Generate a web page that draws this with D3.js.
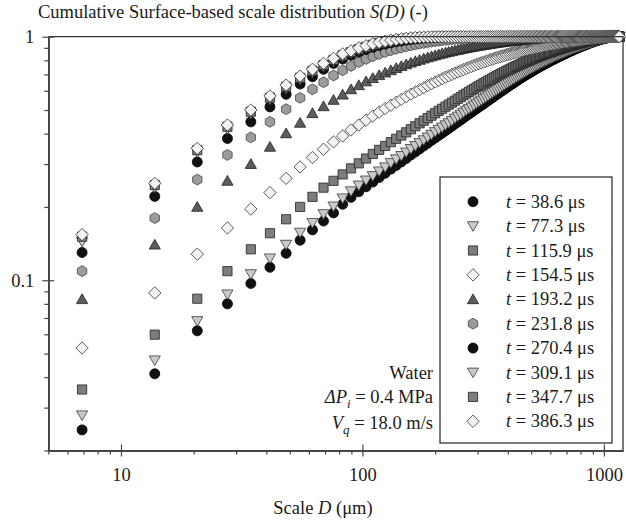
<!DOCTYPE html>
<html>
<head>
<meta charset="utf-8">
<script src="https://cdn.jsdelivr.net/npm/d3@7"></script>
<style>
body { margin: 0; background: #fff; }
text { font-family: "Liberation Serif", "Times New Roman", serif; fill: #1a1a1a; }
</style>
</head>
<body>
<div id="chartArea"></div>
<script>
const w = 626;
const h = 524;
const fs = 18.5;

// scale D (µm), one point per 6.9 µm pixel step
const scaleD = [
6.9,13.8,20.7,27.6,34.5,41.4,48.3,55.2,62.1,69,
75.9,82.8,89.7,96.6,103.5,110.4,117.3,124.2,131.1,138,
144.9,151.8,158.7,165.6,172.5,179.4,186.3,193.2,200.1,207,
213.9,220.8,227.7,234.6,241.5,248.4,255.3,262.2,269.1,276,
282.9,289.8,296.7,303.6,310.5,317.4,324.3,331.2,338.1,345,
351.9,358.8,365.7,372.6,379.5,386.4,393.3,400.2,407.1,414,
420.9,427.8,434.7,441.6,448.5,455.4,462.3,469.2,476.1,483,
489.9,496.8,503.7,510.6,517.5,524.4,531.3,538.2,545.1,552,
558.9,565.8,572.7,579.6,586.5,593.4,600.3,607.2,614.1,621,
627.9,634.8,641.7,648.6,655.5,662.4,669.3,676.2,683.1,690,
696.9,703.8,710.7,717.6,724.5,731.4,738.3,745.2,752.1,759,
765.9,772.8,779.7,786.6,793.5,800.4,807.3,814.2,821.1,828,
834.9,841.8,848.7,855.6,862.5,869.4,876.3,883.2,890.1,897,
903.9,910.8,917.7,924.6,931.5,938.4,945.3,952.2,959.1,966,
972.9,979.8,986.7,993.6,1000.5,1007.4,1014.3,1021.2,1028.1,1035,
1041.9,1048.8,1055.7,1062.6,1069.5,1076.4,1083.3,1090.2,1097.1,1104,
1110.9,1117.8,1124.7,1131.6,1138.5,1145.4,1152.3,1159.2];

const times = [38.6, 77.3, 115.9, 154.5, 193.2, 231.8, 270.4, 309.1, 347.7, 386.3];

const s1 = [
.0243,.0413,.062,.080,.097,.113,.129,.146,.161,.175,
.189,.205,.219,.231,.242,.253,.264,.275,.286,.296,
.306,.316,.327,.336,.346,.356,.365,.375,.384,.393,
.402,.411,.420,.429,.438,.447,.455,.464,.473,.481,
.489,.498,.506,.514,.522,.530,.538,.546,.554,.562,
.570,.578,.585,.593,.600,.608,.615,.623,.630,.637,
.644,.651,.658,.665,.672,.678,.685,.691,.697,.703,
.709,.715,.721,.727,.733,.738,.744,.749,.755,.760,
.765,.770,.775,.780,.785,.790,.795,.800,.804,.809,
.813,.818,.822,.826,.831,.835,.839,.843,.847,.851,
.855,.859,.863,.867,.871,.875,.878,.882,.886,.889,
.893,.896,.900,.903,.906,.910,.913,.916,.919,.922,
.925,.928,.931,.934,.937,.940,.943,.945,.948,.951,
.953,.956,.958,.961,.963,.965,.968,.970,.972,.974,
.976,.978,.980,.982,.984,.985,.987,.988,.990,.991,
.992,.993,.994,.995,.996,.997,.997,.998,.998,.999,
.999,1,1,1,1,1,1,1];

const s2 = [
.0279,.0469,.068,.0875,.106,.123,.140,.157,.172,.187,
.201,.217,.232,.245,.257,.268,.280,.291,.303,.314,
.324,.335,.346,.356,.366,.376,.386,.396,.406,.415,
.424,.433,.442,.451,.461,.470,.479,.488,.497,.505,
.513,.522,.531,.539,.547,.555,.563,.571,.579,.587,
.595,.603,.610,.618,.625,.633,.640,.647,.654,.661,
.668,.675,.682,.689,.695,.701,.708,.714,.720,.726,
.732,.738,.743,.749,.755,.760,.765,.770,.776,.781,
.785,.790,.795,.800,.804,.809,.813,.818,.822,.826,
.830,.834,.838,.842,.846,.850,.854,.857,.861,.865,
.868,.872,.875,.879,.882,.885,.889,.892,.895,.898,
.901,.904,.907,.910,.913,.916,.919,.922,.924,.927,
.930,.932,.935,.937,.940,.942,.945,.947,.950,.952,
.954,.957,.959,.961,.963,.966,.968,.970,.972,.974,
.976,.978,.980,.982,.983,.985,.986,.988,.989,.990,
.991,.992,.993,.994,.995,.996,.997,.997,.998,.998,
.999,.999,1,1,1,1,1,1];

const s3 = [
.0356,.0598,.084,.109,.134,.156,.178,.200,.220,.240,
.256,.272,.288,.302,.316,.330,.343,.356,.369,.381,
.393,.405,.417,.429,.441,.452,.463,.474,.485,.496,
.506,.516,.526,.536,.546,.556,.565,.575,.584,.593,
.602,.610,.619,.627,.635,.643,.651,.659,.666,.674,
.681,.688,.695,.702,.709,.715,.722,.728,.734,.740,
.746,.752,.758,.763,.769,.774,.779,.784,.789,.794,
.799,.804,.808,.813,.817,.822,.826,.830,.834,.838,
.842,.846,.850,.853,.857,.861,.864,.868,.871,.874,
.878,.881,.884,.887,.890,.893,.896,.899,.902,.905,
.907,.910,.913,.915,.918,.920,.923,.925,.928,.930,
.932,.935,.937,.939,.941,.943,.945,.947,.949,.951,
.953,.955,.957,.959,.961,.963,.964,.966,.968,.969,
.971,.972,.974,.975,.977,.978,.979,.981,.982,.983,
.984,.985,.986,.987,.988,.989,.990,.991,.992,.993,
.994,.995,.995,.996,.997,.997,.998,.998,.999,.999,
1,1,1,1,1,1,1,1];

const s4 = [
.0527,.0887,.128,.164,.196,.229,.262,.292,.319,.345,
.370,.391,.414,.434,.454,.472,.490,.507,.523,.538,
.553,.567,.581,.594,.606,.618,.630,.641,.652,.662,
.672,.682,.691,.700,.709,.717,.725,.733,.741,.748,
.755,.762,.769,.775,.781,.787,.793,.798,.804,.809,
.814,.819,.824,.829,.833,.837,.842,.846,.850,.854,
.858,.862,.865,.869,.872,.875,.879,.882,.885,.888,
.891,.894,.897,.899,.902,.905,.907,.910,.912,.915,
.917,.919,.922,.924,.926,.928,.930,.932,.934,.936,
.938,.940,.941,.943,.945,.947,.948,.950,.951,.953,
.954,.956,.957,.959,.960,.961,.963,.964,.965,.966,
.968,.969,.970,.971,.972,.973,.974,.975,.976,.977,
.978,.979,.980,.981,.982,.983,.984,.984,.985,.986,
.987,.988,.988,.989,.990,.990,.991,.992,.992,.993,
.994,.994,.995,.995,.996,.996,.997,.997,.998,.998,
.998,.999,.999,.999,1,1,1,1,1,1,
1,1,1,1,1,1,1,1];

const s5 = [
.0836,.140,.200,.256,.300,.353,.401,.443,.485,.518,
.550,.578,.608,.632,.655,.676,.695,.712,.728,.743,
.757,.770,.782,.793,.803,.813,.822,.830,.838,.846,
.853,.860,.866,.872,.878,.883,.888,.893,.898,.902,
.906,.910,.914,.918,.921,.925,.928,.931,.934,.937,
.940,.942,.945,.947,.950,.952,.954,.956,.958,.960,
.962,.964,.966,.967,.969,.970,.972,.973,.975,.976,
.977,.978,.980,.981,.982,.983,.984,.985,.986,.987,
.988,.988,.989,.990,.991,.991,.992,.993,.993,.994,
.994,.995,.995,.996,.996,.997,.997,.997,.998,.998,
.998,.999,.999,.999,1,1,1,1,1,1,
1,1,1,1,1,1,1,1,1,1,
1,1,1,1,1,1,1,1,1,1,
1,1,1,1,1,1,1,1,1,1,
1,1,1,1,1,1,1,1,1,1,
1,1,1,1,1,1,1,1,1,1,
1,1,1,1,1,1,1,1];

const s6 = [
.109,.180,.259,.327,.386,.447,.504,.561,.608,.650,
.693,.728,.758,.786,.810,.831,.849,.865,.879,.891,
.902,.912,.921,.929,.936,.942,.948,.953,.958,.962,
.966,.970,.973,.976,.979,.981,.983,.985,.987,.989,
.990,.991,.992,.993,.994,.995,.996,.997,.998,.998,
.999,.999,1,1,1,1,1,1,1,1,
1,1,1,1,1,1,1,1,1,1,
1,1,1,1,1,1,1,1,1,1,
1,1,1,1,1,1,1,1,1,1,
1,1,1,1,1,1,1,1,1,1,
1,1,1,1,1,1,1,1,1,1,
1,1,1,1,1,1,1,1,1,1,
1,1,1,1,1,1,1,1,1,1,
1,1,1,1,1,1,1,1,1,1,
1,1,1,1,1,1,1,1,1,1,
1,1,1,1,1,1,1,1,1,1,
1,1,1,1,1,1,1,1];

const s7 = [
.130,.221,.306,.382,.447,.515,.580,.639,.685,.735,
.777,.810,.840,.865,.887,.905,.920,.933,.944,.953,
.961,.968,.974,.979,.983,.987,.990,.992,.994,.996,
.997,.998,.999,1,1,1,1,1,1,1,
1,1,1,1,1,1,1,1,1,1,
1,1,1,1,1,1,1,1,1,1,
1,1,1,1,1,1,1,1,1,1,
1,1,1,1,1,1,1,1,1,1,
1,1,1,1,1,1,1,1,1,1,
1,1,1,1,1,1,1,1,1,1,
1,1,1,1,1,1,1,1,1,1,
1,1,1,1,1,1,1,1,1,1,
1,1,1,1,1,1,1,1,1,1,
1,1,1,1,1,1,1,1,1,1,
1,1,1,1,1,1,1,1,1,1,
1,1,1,1,1,1,1,1,1,1,
1,1,1,1,1,1,1,1];

const s8 = [
.144,.240,.335,.418,.483,.552,.612,.667,.713,.755,
.792,.827,.855,.880,.900,.918,.933,.945,.955,.964,
.971,.977,.982,.986,.989,.992,.994,.996,.997,.998,
.999,1,1,1,1,1,1,1,1,1,
1,1,1,1,1,1,1,1,1,1,
1,1,1,1,1,1,1,1,1,1,
1,1,1,1,1,1,1,1,1,1,
1,1,1,1,1,1,1,1,1,1,
1,1,1,1,1,1,1,1,1,1,
1,1,1,1,1,1,1,1,1,1,
1,1,1,1,1,1,1,1,1,1,
1,1,1,1,1,1,1,1,1,1,
1,1,1,1,1,1,1,1,1,1,
1,1,1,1,1,1,1,1,1,1,
1,1,1,1,1,1,1,1,1,1,
1,1,1,1,1,1,1,1,1,1,
1,1,1,1,1,1,1,1];

const s9 = [
.151,.246,.342,.427,.492,.562,.623,.678,.724,.765,
.803,.838,.864,.889,.908,.926,.940,.951,.961,.969,
.976,.982,.986,.990,.993,.995,.997,.998,.999,1,
1,1,1,1,1,1,1,1,1,1,
1,1,1,1,1,1,1,1,1,1,
1,1,1,1,1,1,1,1,1,1,
1,1,1,1,1,1,1,1,1,1,
1,1,1,1,1,1,1,1,1,1,
1,1,1,1,1,1,1,1,1,1,
1,1,1,1,1,1,1,1,1,1,
1,1,1,1,1,1,1,1,1,1,
1,1,1,1,1,1,1,1,1,1,
1,1,1,1,1,1,1,1,1,1,
1,1,1,1,1,1,1,1,1,1,
1,1,1,1,1,1,1,1,1,1,
1,1,1,1,1,1,1,1,1,1,
1,1,1,1,1,1,1,1];

const s10 = [
.154,.250,.348,.434,.500,.571,.633,.689,.735,.777,
.815,.850,.875,.900,.918,.935,.948,.958,.967,.974,
.980,.985,.989,.992,.994,.996,.997,.998,.999,1,
1,1,1,1,1,1,1,1,1,1,
1,1,1,1,1,1,1,1,1,1,
1,1,1,1,1,1,1,1,1,1,
1,1,1,1,1,1,1,1,1,1,
1,1,1,1,1,1,1,1,1,1,
1,1,1,1,1,1,1,1,1,1,
1,1,1,1,1,1,1,1,1,1,
1,1,1,1,1,1,1,1,1,1,
1,1,1,1,1,1,1,1,1,1,
1,1,1,1,1,1,1,1,1,1,
1,1,1,1,1,1,1,1,1,1,
1,1,1,1,1,1,1,1,1,1,
1,1,1,1,1,1,1,1,1,1,
1,1,1,1,1,1,1,1];

const allSeries = [s1, s2, s3, s4, s5, s6, s7, s8, s9, s10];

const yMajor = [0.1, 1];
const yMinor = [0.02,0.03,0.04,0.05,0.06,0.07,0.08,0.09,0.2,0.3,0.4,0.5,0.6,0.7,0.8,0.9];
const xMajor = [10, 100, 1000];
const xMinor = [5,6,7,8,9,20,30,40,50,60,70,80,90,200,300,400,500,600,700,800,900];

// marker looks, repeating after six
const markers = [
    {shape: "circle",  fill: "#111",    stroke: "#000"},
    {shape: "triDown", fill: "#c9c9c9", stroke: "#3a3a3a"},
    {shape: "square",  fill: "#7d7d7d", stroke: "#222"},
    {shape: "diamond", fill: "#f2f2f2", stroke: "#333"},
    {shape: "triUp",   fill: "#5c5c5c", stroke: "#222"},
    {shape: "hexagon", fill: "#9c9c9c", stroke: "#444"}
];
const seriesMarker = [0, 1, 2, 3, 4, 5, 0, 1, 2, 3];

function shapePath(shape) {
    switch (shape) {
        case "circle": return "M5,0A5,5 0 1,1 -5,0A5,5 0 1,1 5,0Z";
        case "triDown": return "M-5.6,-4.4L5.6,-4.4L0,5.2Z";
        case "triUp": return "M0,-5.4L5.6,4.4L-5.6,4.4Z";
        case "square": return "M-4.6,-4.6L4.6,-4.6L4.6,4.6L-4.6,4.6Z";
        case "diamond": return "M0,-6.2L6.2,0L0,6.2L-6.2,0Z";
        case "hexagon":
            return d3.range(6).map(i => {
                let a = Math.PI / 3 * i - Math.PI / 2;
                return (i ? "L" : "M") + (5.4 * Math.cos(a)).toFixed(2) + "," + (5.4 * Math.sin(a)).toFixed(2);
            }).join("") + "Z";
    }
}

const svg = d3.select("#chartArea")
    .append("svg")
    .attr("width", w)
    .attr("height", h);

const x = d3.scaleLog().domain([5, 1200]).range([48.3, 623]);
const y = d3.scaleLog().domain([0.02, 1]).range([450.5, 36.7]);

// points
allSeries.forEach((vals, si) => {
    let m = markers[seriesMarker[si]];
    svg.append("g")
        .selectAll("path")
        .data(vals.map((v, i) => ({d: scaleD[i], v: v})).filter(p => p.d !== undefined))
        .enter()
        .append("path")
        .attr("d", shapePath(m.shape))
        .attr("transform", p => `translate(${x(p.d)},${y(p.v)})`)
        .attr("fill", m.fill)
        .attr("stroke", m.stroke)
        .attr("stroke-width", 0.8);
});

// frame top and right
svg.append("path")
    .attr("d", `M${x.range()[0]},${y(1)}H${x.range()[1]}V${y.range()[0]}`)
    .attr("fill", "none")
    .attr("stroke", "#333")
    .attr("stroke-width", 1.3);

// y axis
const yAxisG = svg.append("g").attr("transform", `translate(${x.range()[0]},0)`);
yAxisG.call(d3.axisLeft(y).tickValues(yMinor).tickSize(4).tickSizeOuter(0).tickFormat(""));
yAxisG.append("g").call(d3.axisLeft(y).tickValues(yMajor).tickSize(6).tickSizeOuter(0).tickPadding(8).tickFormat(d => d === 1 ? "1" : "0.1"));
yAxisG.append("g").call(d3.axisRight(y).tickValues(yMajor).tickSize(6).tickSizeOuter(0).tickFormat(""));

// x axis
const xAxisG = svg.append("g").attr("transform", `translate(0,${y.range()[0]})`);
xAxisG.call(d3.axisBottom(x).tickValues(xMinor).tickSize(4).tickSizeOuter(0).tickFormat(""));
xAxisG.append("g").call(d3.axisBottom(x).tickValues(xMajor).tickSize(6).tickSizeOuter(0).tickPadding(11).tickFormat(d3.format("d")));
xAxisG.append("g").call(d3.axisTop(x).tickValues(xMajor).tickSize(6).tickSizeOuter(0).tickFormat(""));

svg.selectAll(".domain").attr("stroke", "#444").attr("stroke-width", 1.6);
svg.selectAll(".tick line").attr("stroke", "#444").attr("stroke-width", 1.2);
svg.selectAll(".tick text")
    .attr("font-family", "'Liberation Serif', 'Times New Roman', serif")
    .attr("font-size", fs)
    .attr("fill", "#1a1a1a");

// title
const title = svg.append("text").attr("x", 38).attr("y", 18).attr("font-size", fs);
title.append("tspan").text("Cumulative Surface-based scale distribution ");
title.append("tspan").attr("font-style", "italic").text("S(D)");
title.append("tspan").text(" (-)");

// x label
const xLabel = svg.append("text").attr("x", 323).attr("y", 514).attr("font-size", fs).attr("text-anchor", "middle");
xLabel.append("tspan").text("Scale ");
xLabel.append("tspan").attr("font-style", "italic").text("D");
xLabel.append("tspan").text(" (\u03bcm)");

// conditions note
const note = svg.append("g").attr("font-size", fs).attr("text-anchor", "end");
note.append("text").attr("x", 433).attr("y", 379).text("Water");
const dp = note.append("text").attr("x", 433).attr("y", 403);
dp.append("tspan").attr("font-style", "italic").text("\u0394P");
dp.append("tspan").attr("font-style", "italic").attr("font-size", 13).attr("dy", 5).text("i");
dp.append("tspan").attr("dy", -5).text(" = 0.4 MPa");
const vq = note.append("text").attr("x", 433).attr("y", 429);
vq.append("tspan").attr("font-style", "italic").text("V");
vq.append("tspan").attr("font-style", "italic").attr("font-size", 13).attr("dy", 5).text("q");
vq.append("tspan").attr("dy", -5).text(" = 18.0 m/s");

// legend
const legend = svg.append("g");
legend.append("rect")
    .attr("x", 440).attr("y", 177)
    .attr("width", 172).attr("height", 266)
    .attr("fill", "#fff")
    .attr("stroke", "#222")
    .attr("stroke-width", 1.2);

times.forEach((t, i) => {
    let m = markers[seriesMarker[i]];
    let cy = 201.7 + 24.4 * i;
    legend.append("path")
        .attr("d", shapePath(m.shape))
        .attr("transform", `translate(473,${cy})`)
        .attr("fill", m.fill)
        .attr("stroke", m.stroke)
        .attr("stroke-width", 0.8);
    let txt = legend.append("text").attr("x", 506).attr("y", cy + 6).attr("font-size", fs);
    txt.append("tspan").attr("font-style", "italic").text("t");
    txt.append("tspan").text(` = ${t.toFixed(1)} \u03bcs`);
});
</script>
</body>
</html>
